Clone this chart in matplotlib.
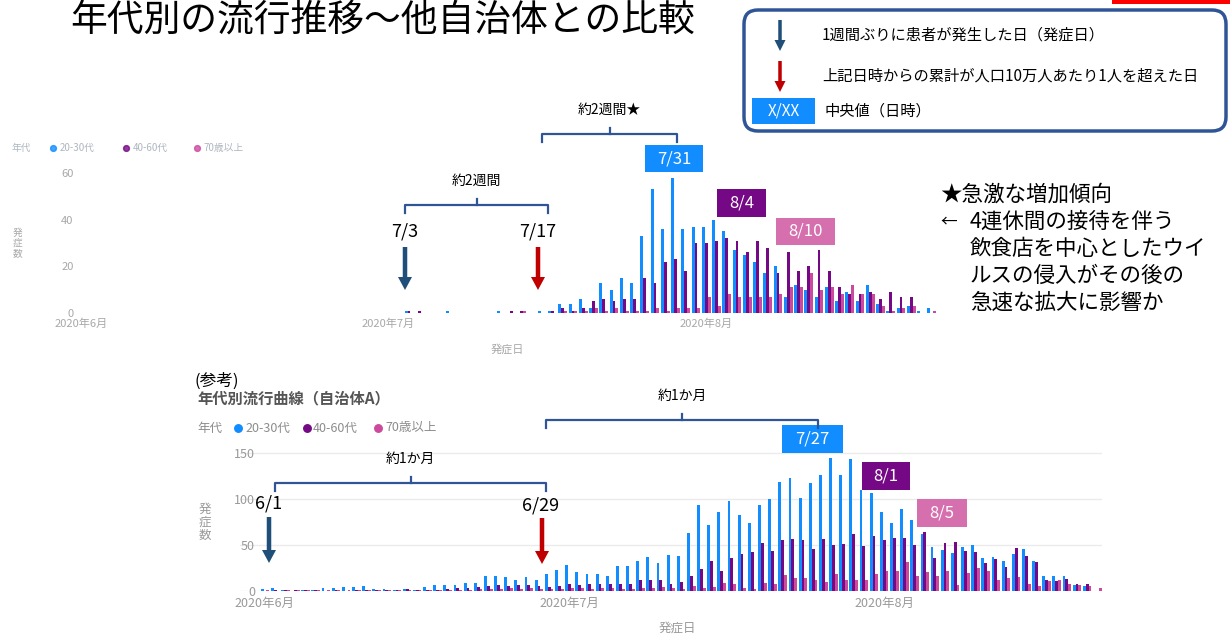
import matplotlib
matplotlib.use('Agg')
import matplotlib.pyplot as plt
from matplotlib.patches import FancyArrow, Rectangle, FancyBboxPatch
import numpy as np
import pandas as pd

plt.rcParams['font.family'] = ['Noto Sans CJK JP', 'DejaVu Sans']

W, H = 1230, 634

# 年代別発症数（当自治体）: 2020-07-03 以降
top_start = '2020-07-03'
top_young = [1, 0, 0, 0, 1, 0, 0, 0, 0, 1, 0, 0, 0, 1, 1, 4, 4, 6, 2, 13,
             10, 15, 13, 33, 53, 36, 58, 36, 37, 37, 40, 35, 27, 25, 22, 17, 20, 7, 12, 10,
             7, 11, 5, 9, 5, 12, 4, 1, 2, 3, 1, 2]
top_middle = [1, 1, 0, 0, 0, 0, 0, 0, 0, 0, 1, 1, 0, 0, 1, 2, 1, 2, 5, 6,
              5, 6, 6, 15, 13, 22, 23, 18, 30, 30, 31, 32, 31, 26, 31, 28, 17, 26, 18, 20,
              27, 18, 11, 8, 8, 9, 6, 9, 7, 7, 0, 0]
top_old = [0, 0, 0, 0, 0, 0, 0, 0, 0, 0, 0, 1, 0, 0, 0, 1, 1, 1, 2, 1,
           2, 1, 1, 1, 2, 1, 2, 2, 2, 7, 3, 8, 7, 7, 7, 7, 8, 11, 11, 17,
           10, 11, 8, 12, 8, 8, 3, 1, 2, 3, 0, 1]

# 年代別流行曲線（自治体A）: 2020-06-01 以降
ref_start = '2020-06-01'
ref_young = [2, 3, 1, 0, 1, 1, 3, 3, 4, 4, 5, 2, 2, 1, 2, 1, 4, 6, 7, 7,
             9, 9, 16, 16, 15, 12, 15, 12, 19, 23, 28, 21, 19, 19, 16, 27, 27, 33, 37, 30,
             39, 38, 63, 94, 72, 86, 98, 83, 74, 94, 100, 119, 123, 101, 117, 126, 145, 126, 143, 110,
             106, 86, 74, 89, 77, 62, 48, 45, 41, 48, 50, 36, 37, 33, 40, 46, 33, 16, 16, 16,
             7, 5, 0]
ref_middle = [0, 1, 1, 1, 1, 1, 0, 1, 0, 1, 1, 1, 1, 1, 2, 1, 1, 1, 2, 3,
              3, 4, 5, 6, 5, 7, 6, 5, 4, 5, 8, 6, 8, 8, 8, 8, 8, 12, 12, 12,
              8, 10, 16, 24, 33, 22, 36, 40, 42, 52, 43, 55, 57, 55, 46, 57, 50, 51, 62, 49,
              60, 55, 58, 58, 50, 64, 36, 52, 53, 44, 42, 30, 35, 26, 47, 38, 32, 12, 11, 13,
              8, 8, 0]
ref_old = [1, 0, 1, 1, 1, 1, 1, 1, 1, 1, 1, 1, 1, 1, 1, 1, 1, 1, 1, 1,
           1, 2, 2, 2, 3, 2, 3, 2, 2, 2, 3, 3, 2, 3, 3, 2, 2, 3, 3, 4,
           3, 2, 5, 3, 4, 9, 8, 3, 2, 9, 8, 17, 14, 14, 12, 10, 18, 12, 12, 12,
           18, 22, 22, 31, 16, 21, 16, 22, 7, 20, 25, 22, 12, 14, 15, 8, 5, 11, 12, 8,
           6, 5, 3]

age_groups = ['20-30代', '40-60代', '70歳以上']
month_ticks = ['2020-06-01', '2020-07-01', '2020-08-01']
month_labels = ['2020年6月', '2020年7月', '2020年8月']
top_medians = ['7/31', '8/4', '8/10']
ref_medians = ['7/27', '8/1', '8/5']

C_YOUNG = '#118DFF'
C_MID = '#750985'
C_OLD = '#CC4A9E'
C_BOX_OLD = '#D56FAE'
C_NAVY = '#1F4E79'
C_RED = '#C00000'
C_FRAME = '#2F5597'
origin = pd.Timestamp('2020-06-01')

fig = plt.figure(figsize=(W / 100, H / 100), dpi=100)
fig.patch.set_facecolor('white')


def px_axes(left, top, right, bottom):
    return fig.add_axes([left / W, 1 - bottom / H, (right - left) / W, (bottom - top) / H])


def draw_bars(ax, start, young, middle, old, bw=0.28):
    x = (pd.Timestamp(start) - origin).days + np.arange(len(young))
    ax.bar(x - bw, young, bw, color=C_YOUNG, lw=0)
    ax.bar(x, middle, bw, color=C_MID, lw=0)
    ax.bar(x + bw, old, bw, color=C_OLD, lw=0)
    ticks = [(pd.Timestamp(t) - origin).days for t in month_ticks]
    ax.set_xticks(ticks, month_labels)
    for s in ax.spines.values():
        s.set_visible(False)
    ax.tick_params(length=0)
    ax.set_facecolor('none')


# 上段：当自治体
ax1 = px_axes(55.4, 168.3, 952.3, 313)
draw_bars(ax1, top_start, top_young, top_middle, top_old)
ax1.set_xlim(-2.5, 85)
ax1.set_ylim(0, 62)
ax1.set_yticks([0, 20, 40, 60])
ax1.tick_params(axis='y', pad=-13, labelsize=8, labelcolor='#A8A8A8')
ax1.tick_params(axis='x', pad=4, labelsize=8, labelcolor='#A8A8A8')

# 下段：自治体A
ax2 = px_axes(239.6, 443.8, 1102.4, 591)
draw_bars(ax2, ref_start, ref_young, ref_middle, ref_old)
ax2.set_xlim(-2.5, 82.5)
ax2.set_ylim(0, 160)
ax2.set_yticks([0, 50, 100, 150])
ax2.grid(axis='y', color='#EBEBEB', lw=1)
ax2.set_axisbelow(True)
ax2.tick_params(axis='y', pad=-11, labelsize=9, labelcolor='#999999')
ax2.tick_params(axis='x', pad=4, labelsize=9, labelcolor='#999999')

# 注記レイヤー（ピクセル座標）
ov = fig.add_axes([0, 0, 1, 1])
ov.set_xlim(0, W)
ov.set_ylim(H, 0)
ov.axis('off')


def down_arrow(x, y0, y1, color, shaft=4.5, head=14, head_len=13):
    ov.add_patch(FancyArrow(x, y0, 0, y1 - y0, width=shaft, head_width=head,
                            head_length=head_len, length_includes_head=True,
                            color=color, lw=0))


def bracket(x0, x1, y, label, drop=8, rise=6):
    xc = (x0 + x1) / 2
    ov.plot([x0, x0, x1, x1], [y + drop, y, y, y + drop], color=C_FRAME, lw=1.6)
    ov.plot([xc, xc], [y, y - rise], color=C_FRAME, lw=1.6)
    ov.text(xc, y - 24, label, ha='center', va='center', fontsize=10, color='black')


def median_box(x0, x1, y0, y1, label, color, fs=12):
    ov.add_patch(Rectangle((x0, y0), x1 - x0, y1 - y0, color=color, lw=0))
    ov.text((x0 + x1) / 2, (y0 + y1) / 2, label, color='white',
            ha='center', va='center', fontsize=fs)


def age_legend(x, y, positions, fs, color, alpha=1.0):
    ov.text(x, y, '年代', fontsize=fs, color=color, va='center', alpha=alpha)
    for (dx, tx), name, c in zip(positions, age_groups, [C_YOUNG, C_MID, C_OLD]):
        ov.plot(dx, y, 'o', ms=fs * 0.6, color=c, alpha=alpha)
        ov.text(tx, y, name, fontsize=fs, color=color, va='center', alpha=alpha)


# タイトル
ov.text(70, 20, '年代別の流行推移～他自治体との比較', fontsize=26.5, va='center', color='black')
ov.add_patch(Rectangle((1112, 0), 118, 4, color='#FF0000', lw=0))

# 凡例枠
ov.add_patch(FancyBboxPatch((744, 10), 482, 121, boxstyle='round,pad=0,rounding_size=14',
                            fc='white', ec=C_FRAME, lw=2.5))
down_arrow(780, 20, 51, C_NAVY, shaft=3.5, head=11, head_len=11)
ov.text(822, 35, '1週間ぶりに患者が発生した日（発症日）', fontsize=11, va='center')
down_arrow(780, 61, 92, C_RED, shaft=3.5, head=11, head_len=11)
ov.text(822, 76, '上記日時からの累計が人口10万人あたり1人を超えた日', fontsize=11, va='center')
median_box(752, 815, 98, 124, 'X/XX', C_YOUNG, fs=11)
ov.text(825, 111, '中央値（日時）', fontsize=11, va='center')

# 上段の注記
age_legend(12, 148, [(53, 60), (126, 133), (197, 204)], 7, '#9AA4B0', alpha=0.8)
ov.text(18, 243, '発\n症\n数', fontsize=7, color='#A8A8A8', ha='center', va='center',
        linespacing=1.0)
ov.text(507, 349, '発症日', fontsize=8, color='#A8A8A8', ha='center', va='center')
bracket(542, 677, 134, '約2週間★')
bracket(405, 548, 205, '約2週間')
ov.text(405, 232, '7/3', fontsize=13, ha='center', va='center')
ov.text(538, 232, '7/17', fontsize=13, ha='center', va='center')
down_arrow(405, 247, 290, C_NAVY)
down_arrow(538, 247, 290, C_RED)
median_box(645, 703, 145, 172, top_medians[0], C_YOUNG)
median_box(717, 766, 189, 217, top_medians[1], C_MID)
median_box(776, 835, 218, 245, top_medians[2], C_BOX_OLD)

note = ['★急激な増加傾向', '4連休間の接待を伴う', '飲食店を中心としたウイ',
        'ルスの侵入がその後の', '急速な拡大に影響か']
ov.text(940, 195, note[0], fontsize=15.5, va='center')
ov.text(940, 222, '←', fontsize=12, va='center')
for i, line in enumerate(note[1:]):
    ov.text(970, 222 + 27 * i, line, fontsize=15.5, va='center')

# 下段の注記
ov.text(195, 381, '(参考)', fontsize=12, va='center')
ov.text(197, 398, '年代別流行曲線（自治体A）', fontsize=11, va='center', color='#555555',
        fontweight='bold')
age_legend(197, 428, [(238, 245), (307, 313), (378, 385)], 9, '#8C8C8C')
ov.text(205, 522, '発\n症\n数', fontsize=9, color='#999999', ha='center', va='center',
        linespacing=1.0)
ov.text(677, 628, '発症日', fontsize=9, color='#999999', ha='center', va='center')
bracket(546, 818, 420, '約1か月')
bracket(275, 546, 483, '約1か月')
ov.text(269, 503, '6/1', fontsize=13, ha='center', va='center')
ov.text(541, 505, '6/29', fontsize=13, ha='center', va='center')
down_arrow(269, 517, 563, C_NAVY)
down_arrow(542, 518, 564, C_RED)
median_box(782, 843, 425, 453, ref_medians[0], C_YOUNG)
median_box(862, 910, 462, 490, ref_medians[1], C_MID)
median_box(917, 967, 499, 527, ref_medians[2], C_BOX_OLD)

fig.savefig('out.png', dpi=100, facecolor='white')
